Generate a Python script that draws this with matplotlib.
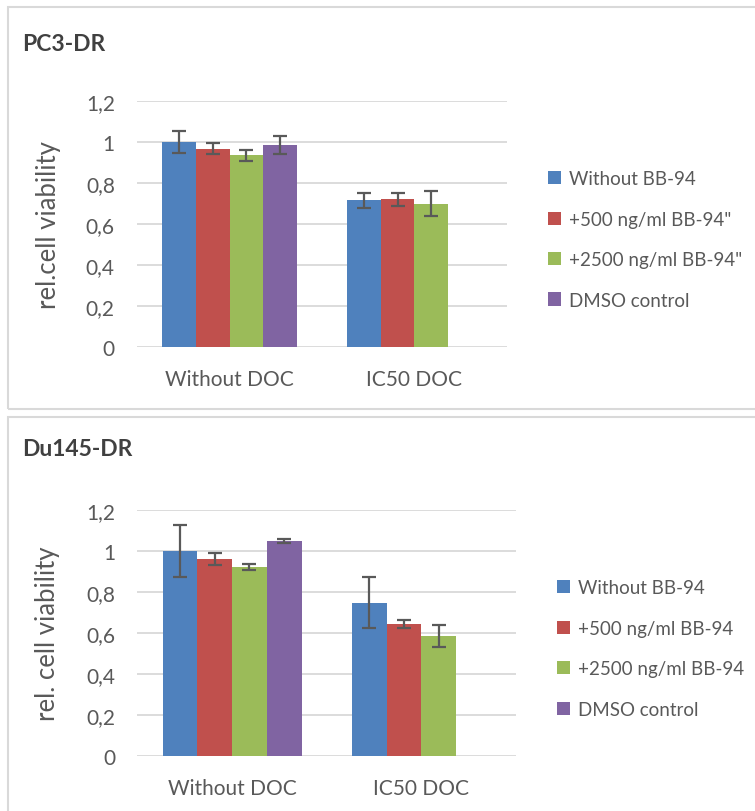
import numpy as np
import matplotlib
matplotlib.use("Agg")
import matplotlib.pyplot as plt
from matplotlib.patches import Rectangle

plt.rcParams['font.family'] = ['Lato', 'DejaVu Sans']

# Datos
grupos = ["Without DOC", "IC50 DOC"]
colores = ["#4F81BD", "#C0504D", "#9BBB59", "#8064A2"]

series_pc3 = ["Without BB-94", "+500 ng/ml BB-94\"", "+2500 ng/ml BB-94\"", "DMSO control"]
pc3_valores = [[1.00, 0.715], [0.968, 0.720], [0.936, 0.699], [0.986, np.nan]]
pc3_errores = [[0.055, 0.035], [0.027, 0.030], [0.027, 0.060], [0.043, np.nan]]

series_du145 = ["Without BB-94", "+500 ng/ml BB-94", "+2500 ng/ml BB-94", "DMSO control"]
du145_valores = [[1.00, 0.748], [0.962, 0.642], [0.922, 0.585], [1.050, np.nan]]
du145_errores = [[0.125, 0.125], [0.030, 0.020], [0.015, 0.055], [0.010, np.nan]]

gris = "#595959"
ancho = 0.1835


def dibujar_panel(fig, rect, titulo, titulo_y, series, valores, errores, etiqueta_y, leyenda_xy):
    ax = fig.add_axes(rect)
    x = np.arange(len(grupos))
    for i, nombre in enumerate(series):
        pos = x + (i - 1.5) * ancho
        vals = np.array(valores[i])
        errs = np.array(errores[i])
        ok = ~np.isnan(vals)
        ax.bar(pos[ok], vals[ok], width=ancho, color=colores[i], label=nombre, zorder=2)
        ax.errorbar(pos[ok], vals[ok], yerr=errs[ok], fmt="none", ecolor=gris,
                    elinewidth=1.6, capsize=5, capthick=1.6, zorder=3)
    ax.set_xlim(-0.5, 1.5)
    ax.set_ylim(0, 1.2)
    ax.set_yticks([0, 0.2, 0.4, 0.6, 0.8, 1.0, 1.2])
    ax.set_yticklabels(["0", "0,2", "0,4", "0,6", "0,8", "1", "1,2"])
    ax.set_xticks(x)
    ax.set_xticklabels(grupos)
    ax.grid(axis="y", color="#d9d9d9", linewidth=1.3, zorder=0)
    ax.set_axisbelow(True)
    for s in ["top", "right", "left", "bottom"]:
        ax.spines[s].set_visible(False)
    ax.tick_params(axis="y", length=0, pad=16, labelsize=15, labelcolor=gris)
    ax.tick_params(axis="x", length=0, pad=16, labelsize=15, labelcolor=gris)
    ax.set_ylabel(etiqueta_y, fontsize=18.5, color=gris)
    ax.yaxis.set_label_coords(-0.205, 0.5)
    fig.text(0.029, titulo_y, titulo, fontsize=16.5, fontweight="bold", color="#404040",
             va="center", ha="left")
    ley = ax.legend(loc="center left", bbox_to_anchor=leyenda_xy, bbox_transform=fig.transFigure,
                    frameon=False, fontsize=13.5, handlelength=0.7, handleheight=0.7,
                    handletextpad=0.4, labelspacing=1.25, borderpad=0, borderaxespad=0)
    for t in ley.get_texts():
        t.set_color(gris)
    return ax


fig = plt.figure(figsize=(7.55, 8.12), dpi=100)

# marcos de cada panel
fig.patches.append(Rectangle((0.0106, 0.495), 1.0, 0.495, transform=fig.transFigure,
                             fill=False, edgecolor="#d9d9d9", linewidth=1.5))
fig.patches.append(Rectangle((0.0106, -0.02), 1.0, 0.505, transform=fig.transFigure,
                             fill=False, edgecolor="#d9d9d9", linewidth=1.5))

ax1 = dibujar_panel(fig, [0.1815, 0.5714, 0.490, 0.303], "PC3-DR", 0.9446,
                    series_pc3, pc3_valores, pc3_errores, "rel.cell viability", (0.726, 0.704))
ax2 = dibujar_panel(fig, [0.1821, 0.0677, 0.5013, 0.303], "Du145-DR", 0.446,
                    series_du145, du145_valores, du145_errores, "rel. cell viability", (0.738, 0.20))

fig.savefig("out.png", dpi=100)
